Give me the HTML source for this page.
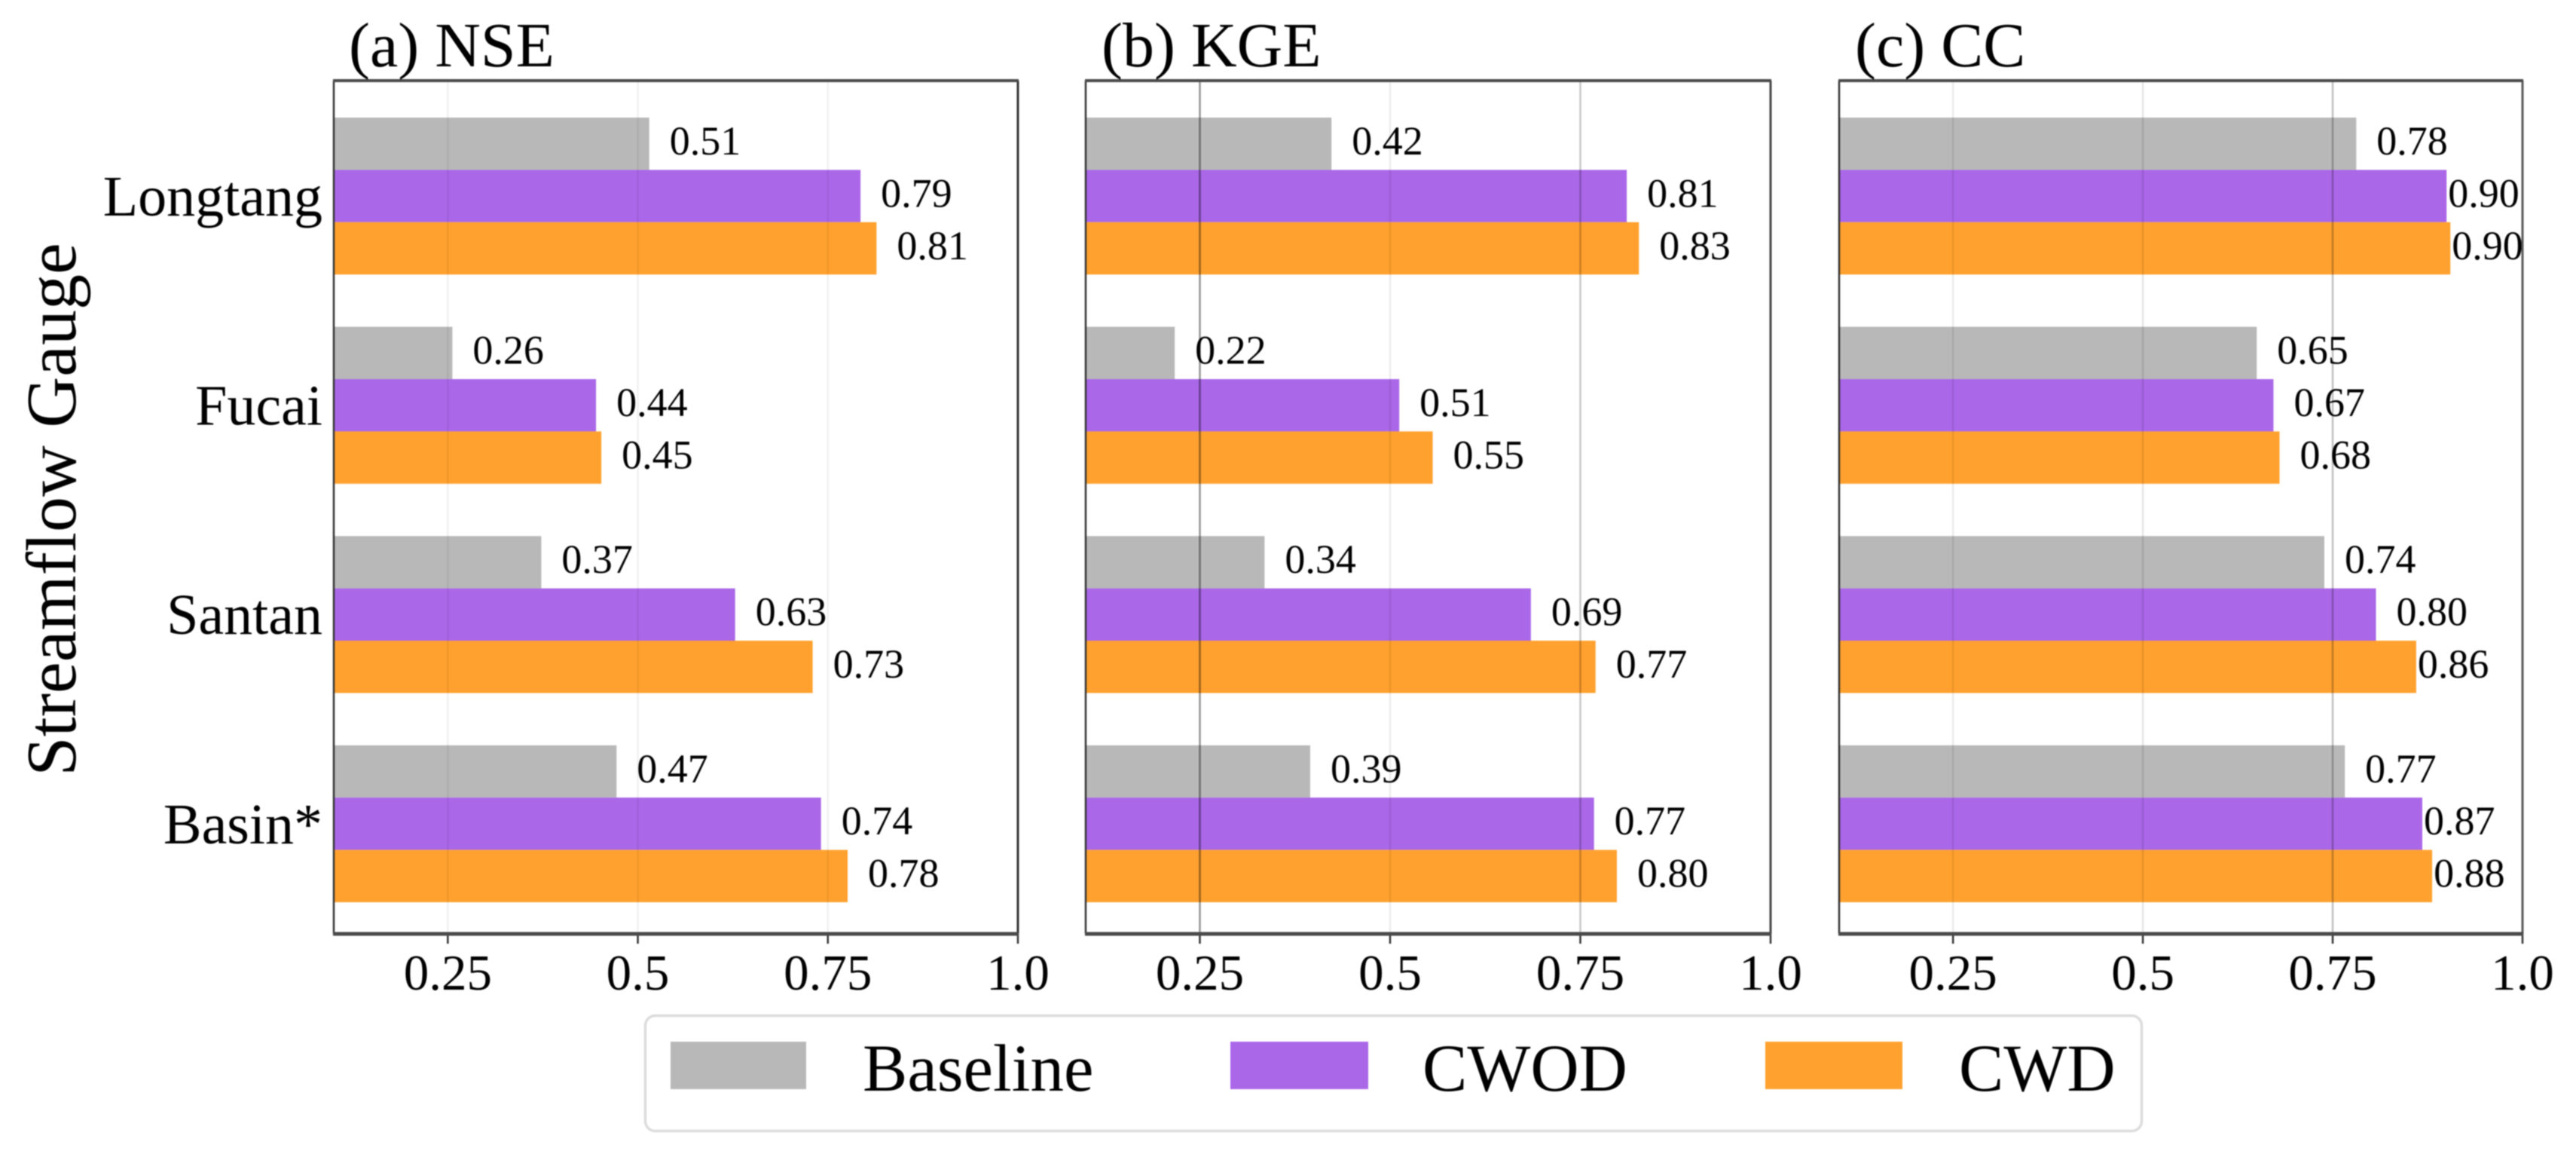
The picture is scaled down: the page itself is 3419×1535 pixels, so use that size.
<!DOCTYPE html>
<html lang="en">
<head>
<meta charset="utf-8">
<title>Streamflow Gauge Metrics</title>
<style>
html,body{margin:0;padding:0;background:#fff;width:3419px;height:1535px;overflow:hidden}
svg{display:block;filter:blur(0.7px)}
text{font-family:"Liberation Serif",serif;fill:#000}
</style>
</head>
<body>
<svg id="chart" xmlns="http://www.w3.org/2000/svg" width="3419" height="1535" viewBox="0 0 3419 1535">
  <rect x="0" y="0" width="3419" height="1535" fill="#fff"/>
  <text transform="translate(100 676) rotate(-90)" text-anchor="middle" font-size="94">Streamflow Gauge</text>
  <rect x="856.5" y="1347.5" width="1986" height="153" rx="13" ry="13" fill="#fff" stroke="#dcdcdc" stroke-width="3.5"/>
  <rect x="890" y="1382" width="180" height="63" fill="#b8b8b8"/>
  <text x="1145" y="1447" font-size="89">Baseline</text>
  <rect x="1633" y="1382" width="183" height="63" fill="#aa67e8"/>
  <text x="1888" y="1447" font-size="89">CWOD</text>
  <rect x="2343" y="1382" width="182" height="63" fill="#ffa12e"/>
  <text x="2600" y="1447" font-size="89">CWD</text>
</svg>
<script>
// Categories and tick labels
const gauges = ["Longtang", "Fucai", "Santan", "Basin*"];
const tickValues = [0.25, 0.5, 0.75, 1.0];
const tickLabels = ["0.25", "0.5", "0.75", "1.0"];

// Bar values (one array per panel / series)
const nseBaseline = [0.515, 0.256, 0.373, 0.472];
const nseCwod = [0.793, 0.445, 0.628, 0.741];
const nseCwd = [0.814, 0.452, 0.730, 0.776];
const kgeBaseline = [0.423, 0.217, 0.335, 0.395];
const kgeCwod = [0.811, 0.512, 0.685, 0.768];
const kgeCwd = [0.827, 0.556, 0.770, 0.798];
const ccBaseline = [0.781, 0.650, 0.739, 0.766];
const ccCwod = [0.900, 0.672, 0.807, 0.868];
const ccCwd = [0.905, 0.680, 0.860, 0.881];

// Printed value labels
const nseBaselineText = ["0.51", "0.26", "0.37", "0.47"];
const nseCwodText = ["0.79", "0.44", "0.63", "0.74"];
const nseCwdText = ["0.81", "0.45", "0.73", "0.78"];
const kgeBaselineText = ["0.42", "0.22", "0.34", "0.39"];
const kgeCwodText = ["0.81", "0.51", "0.69", "0.77"];
const kgeCwdText = ["0.83", "0.55", "0.77", "0.80"];
const ccBaselineText = ["0.78", "0.65", "0.74", "0.77"];
const ccCwodText = ["0.90", "0.67", "0.80", "0.87"];
const ccCwdText = ["0.90", "0.68", "0.86", "0.88"];

const svgNS = "http://www.w3.org/2000/svg";
const svg = document.getElementById("chart");
const xMin = 0.1, xMax = 1.0;
const plotTop = 107, plotBottom = 1239;
const firstBandTop = 156, bandStep = 277.6, barStep = 69.4;
const seriesColors = ["#b8b8b8", "#aa67e8", "#ffa12e"];
const seriesNames = ["baseline", "cwod", "cwd"];

const panels = [
  { key: "nse", title: "(a) NSE", left: 443, right: 1351, titleX: 463,
    values: [nseBaseline, nseCwod, nseCwd],
    texts: [nseBaselineText, nseCwodText, nseCwdText],
    gridColors: ["rgba(0,0,0,.06)", "rgba(0,0,0,.06)", "rgba(0,0,0,.06)"], edgeColor: "#333", showY: true },
  { key: "kge", title: "(b) KGE", left: 1441, right: 2350, titleX: 1462,
    values: [kgeBaseline, kgeCwod, kgeCwd],
    texts: [kgeBaselineText, kgeCwodText, kgeCwdText],
    gridColors: ["rgba(0,0,0,.42)", "rgba(0,0,0,.07)", "rgba(0,0,0,.22)"], edgeColor: "#444", showY: false },
  { key: "cc", title: "(c) CC", left: 2441, right: 3348, titleX: 2462,
    values: [ccBaseline, ccCwod, ccCwd],
    texts: [ccBaselineText, ccCwodText, ccCwdText],
    gridColors: ["rgba(0,0,0,.08)", "rgba(0,0,0,.1)", "rgba(0,0,0,.25)"], edgeColor: "#5a5a5a", showY: false }
];

function make(tag, attrs, text) {
  const el = document.createElementNS(svgNS, tag);
  for (const k in attrs) el.setAttribute(k, attrs[k]);
  if (text !== undefined) el.textContent = text;
  svg.appendChild(el);
  return el;
}
function xScale(panel, v) {
  return panel.right - (xMax - v) * (panel.right - panel.left) / (xMax - xMin);
}
function barTop(gaugeIndex, seriesIndex) {
  return firstBandTop + gaugeIndex * bandStep + seriesIndex * barStep;
}
function labelGap(v) {
  return v > 0.85 ? 2 : 27;
}

panels.forEach(function (p) {
  // Bars
  p.values.forEach(function (series, s) {
    series.forEach(function (v, g) {
      const bar = make("rect", {
        x: p.left, y: barTop(g, s),
        width: xScale(p, v) - p.left, height: barStep,
        fill: seriesColors[s]
      });
      
      
    });
  });

  // Grid lines and ticks
  tickValues.forEach(function (t, i) {
    const tx = xScale(p, t);
    if (t < xMax) {
      const grid = make("line", {
        x1: tx, x2: tx, y1: plotTop, y2: plotBottom,
        stroke: p.gridColors[i], "stroke-width": 2.5
      });
      
      
    }
    const tick = make("line", {
      x1: tx, x2: tx, y1: plotBottom, y2: plotBottom + 13,
      stroke: "#333", "stroke-width": 2.5
    });
    
    
    const tickText = make("text", {
      x: tx, y: 1313, "text-anchor": "middle", "font-size": 67
    }, tickLabels[i]);
    
    
  });

  // Value labels
  p.values.forEach(function (series, s) {
    series.forEach(function (v, g) {
      const label = make("text", {
        x: xScale(p, v) + labelGap(v), y: barTop(g, s) + 49, "font-size": 54
      }, p.texts[s][g]);
      
      
    });
  });

  // Frame
  const leftEdge = make("line", { x1: p.left, x2: p.left, y1: plotTop, y2: plotBottom, stroke: "#333", "stroke-width": 2.5 });
  
  
  const rightEdge = make("line", { x1: p.right, x2: p.right, y1: plotTop, y2: plotBottom, stroke: p.edgeColor, "stroke-width": 3 });
  
  
  const topEdge = make("line", { x1: p.left - 1, x2: p.right + 1, y1: plotTop, y2: plotTop, stroke: "#4a4a4a", "stroke-width": 4 });
  
  
  const bottomEdge = make("line", { x1: p.left - 1, x2: p.right + 1, y1: plotBottom, y2: plotBottom, stroke: "#4a4a4a", "stroke-width": 5 });
  
  

  // Title
  const title = make("text", { x: p.titleX, y: 88, "font-size": 84 }, p.title);
  
  

  // Category labels
  if (p.showY) {
    gauges.forEach(function (name, g) {
      const yLabel = make("text", {
        x: p.left - 15, y: 286 + g * bandStep, "text-anchor": "end", "font-size": 76
      }, name);
      
      
    });
  }
});
</script>
</body>
</html>
